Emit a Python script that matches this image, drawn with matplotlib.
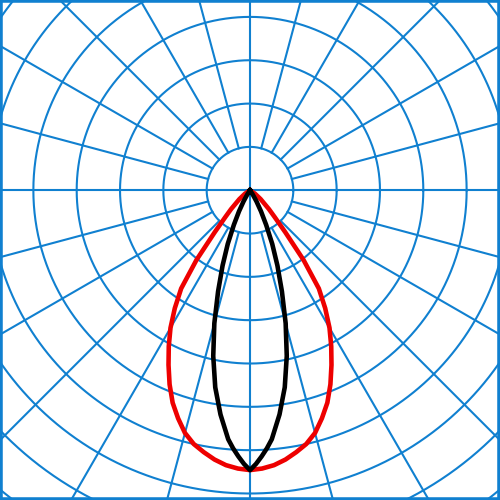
import numpy as np
import matplotlib
matplotlib.use("Agg")
import matplotlib.pyplot as plt

# polar intensity diagram, gamma measured from straight down (degrees)
red_gamma = [0, 2.5, 5, 7.5, 10, 12.5, 15, 17.5, 20, 22.5, 25, 27.5, 30,
             32.5, 35, 37.5, 40, 42.5, 45, 50, 55, 60]
red_int = [646, 643, 637, 627, 614, 600, 580, 552, 522, 485, 445, 406, 367,
           323, 277, 203, 127, 85, 62, 32, 14, 0]

black_gamma = [0, 1.25, 2.5, 3.75, 5, 7.5, 10, 12.5, 15, 17.5, 20, 22.5, 25,
               27.5, 30, 32.5, 35]
black_int = [646, 632, 615, 597, 577, 522, 462, 392, 318, 245, 185, 134, 88,
             55, 30, 12, 0]

rings = [100, 200, 300, 400, 500, 600, 700, 800, 900, 1000]
spokes = list(range(0, 360, 15))

grid_col = '#1080d0'

fig = plt.figure(figsize=(5, 5), dpi=100)
ax = fig.add_axes([0, 0, 1, 1])

t = np.linspace(0, 2 * np.pi, 721)
for r in rings:
    ax.plot(r * np.cos(t), r * np.sin(t), color=grid_col, lw=1.5, zorder=1)

for a in spokes:
    rad = np.deg2rad(a)
    r0 = 0 if a % 90 == 0 else rings[0]
    r1 = 1200
    ax.plot([r0 * np.cos(rad), r1 * np.cos(rad)],
            [r0 * np.sin(rad), r1 * np.sin(rad)],
            color=grid_col, lw=1.5, zorder=1)


def curve(gam, val):
    g = np.deg2rad(np.array(gam, dtype=float))
    v = np.array(val, dtype=float)
    # mirror to the other half
    g = np.concatenate([-g[::-1], g[1:]])
    v = np.concatenate([v[::-1], v[1:]])
    return v * np.sin(g), -v * np.cos(g)


x, y = curve(red_gamma, red_int)
ax.plot(x, y, color='#ee0000', lw=3.3, zorder=3, solid_joinstyle='round')
x, y = curve(black_gamma, black_int)
ax.plot(x, y, color='black', lw=3.3, zorder=4, solid_joinstyle='round')

ax.set_xlim(-577, 577)
ax.set_ylim(-715, 439)
ax.set_aspect('auto')
ax.set_xticks([])
ax.set_yticks([])
for s in ax.spines.values():
    s.set_color(grid_col)
    s.set_linewidth(4)

fig.savefig('out.png', dpi=100)
